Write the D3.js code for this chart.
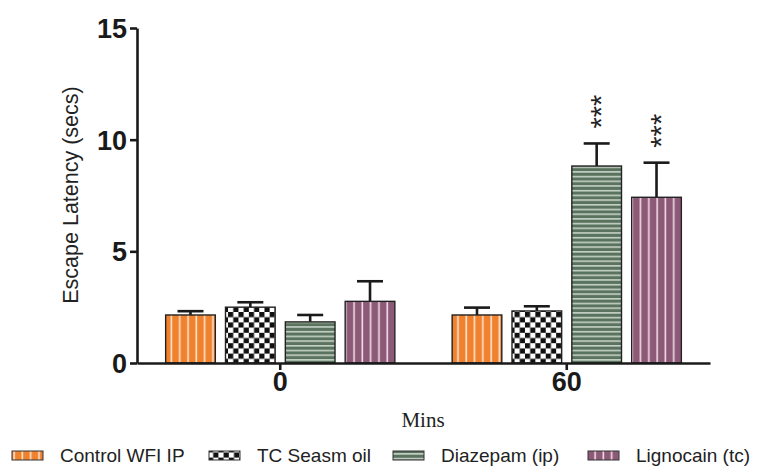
<!DOCTYPE html>
<html><head><meta charset="utf-8">
<script src="https://cdn.jsdelivr.net/npm/d3@7"></script>
<style>body{margin:0;background:#fff;}svg{display:block;}</style>
</head><body>
<script>
const groups = ["0", "60"];
const series = ["Control WFI IP", "TC Seasm oil", "Diazepam (ip)", "Lignocain (tc)"];
const means = [[2.15, 2.50, 1.84, 2.76], [2.15, 2.33, 8.82, 7.42]];
const errTops = [[2.32, 2.72, 2.15, 3.66], [2.48, 2.54, 9.83, 8.97]];
const stars = [["", "", "", ""], ["", "", "***", "***"]];
const yTicks = [0, 5, 10, 15];
const patternIds = ["pOrange", "pChecker", "pGreen", "pPurple"];

const W = 759, H = 466;
const svg = d3.select("body").append("svg").attr("width", W).attr("height", H);
const defs = svg.append("defs");

// patterns
let p = defs.append("pattern").attr("id", "pOrange").attr("patternUnits", "userSpaceOnUse").attr("width", 8.3).attr("height", 10);
p.append("rect").attr("width", 8.3).attr("height", 10).attr("fill", "#f0822e");
p.append("rect").attr("x", 5).attr("width", 1.6).attr("height", 10).attr("fill", "#fbe3d0");
p = defs.append("pattern").attr("id", "pPurple").attr("patternUnits", "userSpaceOnUse").attr("width", 8.3).attr("height", 10);
p.append("rect").attr("width", 8.3).attr("height", 10).attr("fill", "#8c5a76");
p.append("rect").attr("x", 5).attr("width", 1.6).attr("height", 10).attr("fill", "#f2dbe6");
p = defs.append("pattern").attr("id", "pGreen").attr("patternUnits", "userSpaceOnUse").attr("width", 10).attr("height", 4.7);
p.append("rect").attr("width", 10).attr("height", 4.7).attr("fill", "#5a735e");
p.append("rect").attr("y", 2).attr("width", 10).attr("height", 1.4).attr("fill", "#d5dfd6");
p = defs.append("pattern").attr("id", "pChecker").attr("patternUnits", "userSpaceOnUse").attr("width", 10.4).attr("height", 10.4);
p.append("rect").attr("width", 10.4).attr("height", 10.4).attr("fill", "#fff");
p.append("rect").attr("width", 5.2).attr("height", 5.2).attr("fill", "#111");
p.append("rect").attr("x", 5.2).attr("y", 5.2).attr("width", 5.2).attr("height", 5.2).attr("fill", "#111");

const y = d3.scaleLinear().domain([0, 15]).range([363, 28]);
const x0 = d3.scaleBand().domain(groups).range([137, 710]).paddingInner(0.2).paddingOuter(0.1);
const x1 = d3.scaleBand().domain(series).range([0, x0.bandwidth()]).paddingInner(0.17);

// bars
groups.forEach((g, gi) => {
  const gg = svg.append("g").attr("transform", `translate(${x0(g)},0)`);
  series.forEach((s, si) => {
    const bx = x1(s), bw = x1.bandwidth(), cx = bx + bw / 2;
    gg.append("line").attr("x1", cx).attr("x2", cx).attr("y1", y(means[gi][si])).attr("y2", y(errTops[gi][si]))
      .attr("stroke", "#1a1a1a").attr("stroke-width", 2.6);
    gg.append("line").attr("x1", cx - 13).attr("x2", cx + 13).attr("y1", y(errTops[gi][si])).attr("y2", y(errTops[gi][si]))
      .attr("stroke", "#1a1a1a").attr("stroke-width", 2.6);
    gg.append("rect").attr("x", bx).attr("y", y(means[gi][si])).attr("width", bw)
      .attr("height", y(0) - y(means[gi][si]))
      .attr("fill", `url(#${patternIds[si]})`).attr("stroke", "#222").attr("stroke-width", 1.4);
    const st = stars[gi][si];
    if (st) {
      const fs = 29;
      gg.append("text")
        .attr("transform", `translate(${cx - 2 + fs * 0.575},${y(errTops[gi][si]) - 15}) rotate(-90)`)
        .attr("font-family", "Liberation Sans, Arial, sans-serif")
        .attr("font-size", fs).attr("fill", "#222").text(st);
    }
  });
});

// y axis
const yAxis = svg.append("g").attr("transform", "translate(137,0)")
  .call(d3.axisLeft(y).tickValues(yTicks).tickSize(7).tickPadding(3).tickSizeOuter(0));
yAxis.select(".domain").attr("stroke", "#1a1a1a").attr("stroke-width", 2.6);
yAxis.selectAll(".tick line").attr("stroke", "#1a1a1a").attr("stroke-width", 2.6);
yAxis.selectAll(".tick text").attr("font-family", "Liberation Sans, Arial, sans-serif")
  .attr("font-size", 27).attr("font-weight", "bold").attr("fill", "#1a1a1a").attr("dy", "0.35em");

// x axis
const xAxis = svg.append("g").attr("transform", "translate(0,363)")
  .call(d3.axisBottom(x0).tickSize(7).tickPadding(2).tickSizeOuter(0));
xAxis.select(".domain").attr("stroke", "#1a1a1a").attr("stroke-width", 2.6);
xAxis.selectAll(".tick line").attr("stroke", "#1a1a1a").attr("stroke-width", 2.6);
xAxis.selectAll(".tick text").attr("font-family", "Liberation Sans, Arial, sans-serif")
  .attr("font-size", 27).attr("font-weight", "bold").attr("fill", "#1a1a1a");

// axis titles
svg.append("text").attr("transform", "translate(78,195) rotate(-90)").attr("text-anchor", "middle")
  .attr("font-family", "Liberation Sans, Arial, sans-serif").attr("font-size", 21.5).attr("fill", "#222")
  .text("Escape Latency (secs)");
svg.append("text").attr("x", 423).attr("y", 427).attr("text-anchor", "middle")
  .attr("font-family", "Liberation Serif, Times New Roman, serif").attr("font-size", 21).attr("fill", "#222")
  .text("Mins");

// legend
const legX = [12, 209, 393, 588];
series.forEach((s, i) => {
  svg.append("rect").attr("x", legX[i]).attr("y", 451).attr("width", 31).attr("height", 9)
    .attr("fill", `url(#${patternIds[i]})`).attr("stroke", "#333").attr("stroke-width", 1);
  svg.append("text").attr("x", legX[i] + 48).attr("y", 462)
    .attr("font-family", "Liberation Sans, Arial, sans-serif").attr("font-size", 19).attr("fill", "#222")
    .text(s);
});
</script>
</body></html>
